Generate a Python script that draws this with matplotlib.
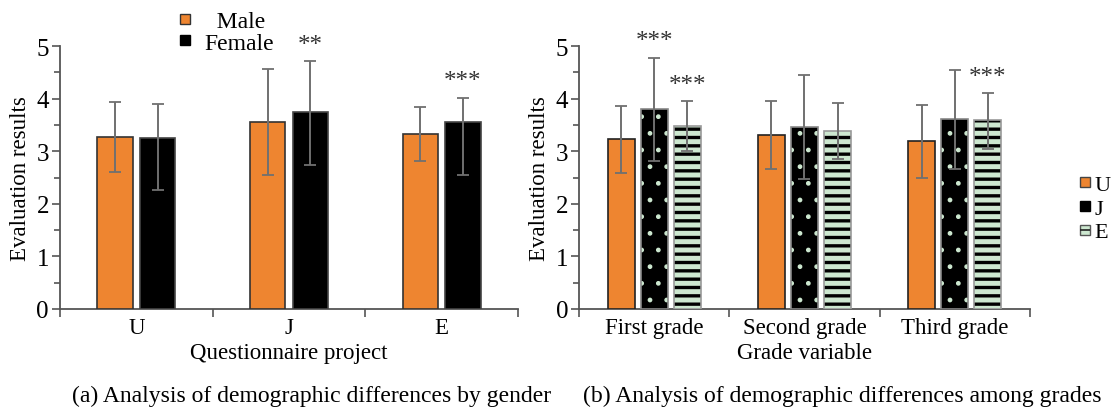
#!/usr/bin/env python3
"""Grouped bar charts: demographic differences by gender and grade."""

import matplotlib
matplotlib.use("Agg")
import matplotlib.pyplot as plt
from matplotlib.lines import Line2D
import numpy as np

plt.rcParams["font.family"] = ["Liberation Serif", "DejaVu Serif"]
plt.rcParams["font.size"] = 16.5

# (a) gender
items = ["U", "J", "E"]
male_mean = [3.28, 3.56, 3.33]
male_err_lo = [2.60, 2.55, 2.81]
male_err_hi = [3.94, 4.56, 3.85]
female_mean = [3.26, 3.74, 3.55]
female_err_lo = [2.26, 2.74, 2.55]
female_err_hi = [3.90, 4.71, 4.02]
female_stars = ["", "**", "***"]

# (b) grades
grades = ["First grade", "Second grade", "Third grade"]
u_mean = [3.23, 3.31, 3.19]
u_lo = [2.59, 2.66, 2.50]
u_hi = [3.87, 3.96, 3.88]
j_mean = [3.81, 3.47, 3.61]
j_lo = [2.81, 2.47, 2.66]
j_hi = [4.78, 4.45, 4.55]
e_mean = [3.48, 3.38, 3.59]
e_lo = [3.00, 2.85, 3.05]
e_hi = [3.96, 3.91, 4.11]
j_stars = ["***", "", ""]
e_stars = ["***", "", "***"]

ORANGE = "#ee8530"
GREEN = "#cde8d0"
AXIS = "#555555"
ERR = "#707070"


def style_axis(ax, cats, xlabel):
    ax.set_xlim(-0.5, len(cats) - 0.5)
    ax.set_ylim(0, 5)
    for side in ("top", "right"):
        ax.spines[side].set_visible(False)
    for side in ("left", "bottom"):
        ax.spines[side].set_color(AXIS)
        ax.spines[side].set_linewidth(1.3)
    ax.set_yticks(range(6))
    ax.set_yticks(np.arange(0.5, 5, 1.0), minor=True)
    ax.tick_params(axis="y", which="major", length=6, color=AXIS, width=1.2,
                   pad=2, labelsize=18)
    ax.tick_params(axis="y", which="minor", length=4, color=AXIS, width=1.2)
    ax.set_xticks(np.arange(-0.5, len(cats), 1.0))
    ax.set_xticklabels([])
    ax.set_xticks(range(len(cats)), minor=True)
    ax.set_xticklabels(cats, minor=True)
    ax.tick_params(axis="x", which="major", length=6, color=AXIS, width=1.2)
    ax.tick_params(axis="x", which="minor", length=0, pad=6)
    ax.set_xlabel(xlabel, labelpad=3)
    ax.set_ylabel("Evaluation results", labelpad=4)


def draw_err(ax, x, lo, hi):
    ax.errorbar(x, (np.array(lo) + np.array(hi)) / 2,
                yerr=(np.array(hi) - np.array(lo)) / 2, fmt="none",
                ecolor=ERR, elinewidth=1.4, capsize=4, capthick=1.3, zorder=4)


def draw_stars(ax, x, hi, stars):
    for xi, h, s in zip(x, hi, stars):
        if s:
            ax.text(xi, h + 0.1, s, ha="center", va="bottom", fontsize=18,
                    color="#333333", zorder=5)


def square(face, edge, size=6.5):
    return Line2D([], [], ls="none", marker="s", markersize=size,
                  markerfacecolor=face, markeredgecolor=edge, markeredgewidth=1.0)


fig = plt.figure(figsize=(11.14, 4.10), dpi=100)
ax1 = fig.add_axes([0.0539, 0.244, 0.411, 0.641])
ax2 = fig.add_axes([0.520, 0.244, 0.4043, 0.641])

# ---- (a)
x = np.arange(len(items))
w, off = 0.23, 0.14
ax1.bar(x - off, male_mean, w, color=ORANGE, edgecolor="#333333", linewidth=1.2, zorder=3)
ax1.bar(x + off, female_mean, w, color="black", edgecolor="#444444", linewidth=1.2, zorder=3)
draw_err(ax1, x - off, male_err_lo, male_err_hi)
draw_err(ax1, x + off, female_err_lo, female_err_hi)
draw_stars(ax1, x + off, female_err_hi, female_stars)
style_axis(ax1, items, "Questionnaire project")
ax1.legend([square(ORANGE, "#333333"), square("black", "black")], ["  Male", "Female"],
           loc="upper left", bbox_to_anchor=(0.1616, 0.972), bbox_transform=fig.transFigure,
           frameon=False, handlelength=0.4, handletextpad=0.64,
           labelspacing=0.0, borderaxespad=0, borderpad=0, fontsize=17)

# ---- (b)
x = np.arange(len(grades))
w, off = 0.18, 0.22
ax2.bar(x - off, u_mean, w, color=ORANGE, edgecolor="#222222", linewidth=1.2, zorder=3)
with plt.rc_context({"hatch.linewidth": 1.0}):
    ax2.bar(x, j_mean, w, color="black", edgecolor=GREEN, hatch=".", linewidth=0, zorder=3)
ax2.bar(x, j_mean, w, fill=False, edgecolor="#888888", linewidth=1.2, zorder=3)
with plt.rc_context({"hatch.linewidth": 2.4}):
    ax2.bar(x + off, e_mean, w, color=GREEN, edgecolor="black", hatch="--", linewidth=0, zorder=3)
ax2.bar(x + off, e_mean, w, fill=False, edgecolor="#999999", linewidth=1.2, zorder=3)
draw_err(ax2, x - off, u_lo, u_hi)
draw_err(ax2, x, j_lo, j_hi)
draw_err(ax2, x + off, e_lo, e_hi)
draw_stars(ax2, x, j_hi, j_stars)
draw_stars(ax2, x + off, e_hi, e_stars)
style_axis(ax2, grades, "Grade variable")

e_handle = (square(GREEN, "#555555"),
            Line2D([], [], ls="none", marker="_", markersize=6.5,
                   markeredgecolor="#222222", markeredgewidth=1.2))
ax2.legend([square(ORANGE, "#444444"), square("black", "black"), e_handle],
           ["U", "J", "E"],
           loc="upper left", bbox_to_anchor=(0.9695, 0.573), bbox_transform=fig.transFigure,
           frameon=False, handlelength=0.45, handletextpad=0.2,
           labelspacing=0.15, borderaxespad=0, borderpad=0, fontsize=16)

fig.text(0.280, 0.008, "(a) Analysis of demographic differences by gender",
         ha="center", va="bottom", fontsize=17)
fig.text(0.756, 0.008, "(b) Analysis of demographic differences among grades",
         ha="center", va="bottom", fontsize=17)

fig.savefig("out.png", dpi=100)
